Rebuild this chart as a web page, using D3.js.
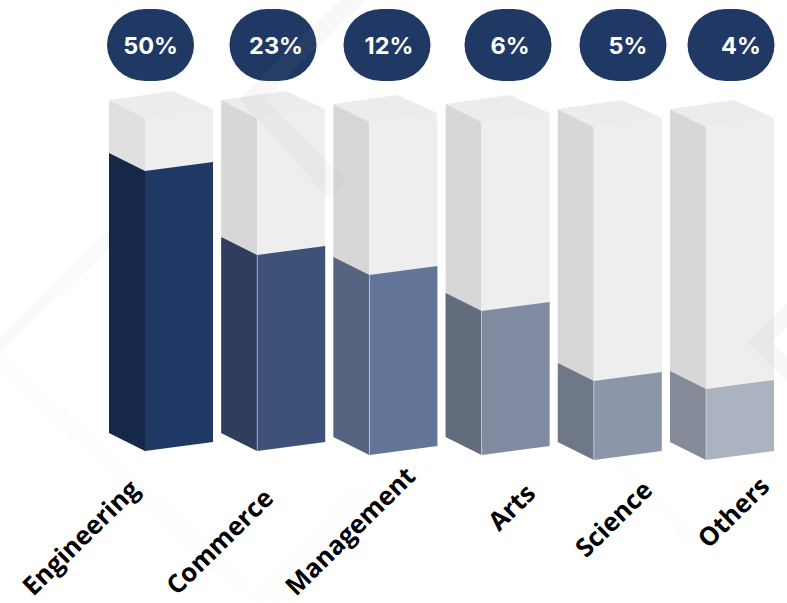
<!DOCTYPE html>
<html>
<head>
<meta charset="utf-8">
<script src="https://cdn.jsdelivr.net/npm/d3@7"></script>
<style>
  html, body { margin: 0; padding: 0; background: #fff; }
  svg { display: block; }
</style>
</head>
<body>
<svg id="chart" width="787" height="603"></svg>
<script>
// Share of students by field of study
const fields = ["Engineering", "Commerce", "Management", "Arts", "Science", "Others"];
const shares = [50, 23, 12, 6, 5, 4];
const frontColors = ["#1f3864", "#3e5179", "#64759a", "#808aa0", "#8b97a9", "#abb3c0"];
const sideColors = ["#16284a", "#2f3e5c", "#566480", "#636c7c", "#6e7886", "#858b98"];
const baseDrop = [0, 0, 4, 4, 9, 9];
const pillCenters = [150.5, 273, 387, 508, 623, 731];
const textCenters = [150.5, 276, 389, 510, 628, 741];
const labelEnds = [[141, 491], [275, 500], [417, 478], [537, 495], [654, 492], [771, 488]];

const svg = d3.select("#chart");

// Tower geometry: a side face, a front face and a cap in a shallow isometric view
const sideW = 36, frontW = 68, towerH = 333, sideRise = 18, frontRise = 9, capBack = 64;
const x = d3.scaleBand().domain(fields).range([109, 109 + 112.2 * 6]);
const baseY = 451;

// Fill height grows with share on a compressed, piecewise axis
const fillH = d3.scaleLinear().domain([0, 4, 5, 6, 12, 23, 50]).range([0, 71, 79, 144, 180, 196, 280]);

const poly = (pts, fill) => svg.append("polygon")
  .attr("points", pts.map(p => p.join(",")).join(" "))
  .attr("fill", fill);

fields.forEach((f, i) => {
  const left = x(f), mid = left + sideW, right = mid + frontW;
  const b = baseY + baseDrop[i];
  const top = b - towerH;
  const fy = b - fillH(shares[i]);

  // empty column
  poly([[left, top - sideRise], [mid, top], [mid, b], [left, b - sideRise]], i === 0 ? "#e0e0e0" : "#d7d7d7");
  poly([[mid, top], [right, top - frontRise], [right, b - frontRise], [mid, b]], "#eeeeee");
  poly([[left, top - sideRise], [left + capBack, top - sideRise - frontRise], [right, top - frontRise], [mid, top]], "#ececec");

  // filled portion
  poly([[left, fy - sideRise], [mid, fy], [mid, b], [left, b - sideRise]], sideColors[i]);
  poly([[mid, fy], [right, fy - frontRise], [right, b - frontRise], [mid, b]], frontColors[i]);
  svg.append("line").attr("x1", mid).attr("x2", mid).attr("y1", fy).attr("y2", b)
    .attr("stroke", "#ffffff").attr("stroke-opacity", i === 0 ? 0 : 0.45).attr("stroke-width", 1);
});

// Percentage pills above the towers
fields.forEach((f, i) => {
  svg.append("rect")
    .attr("x", pillCenters[i] - 43.5).attr("y", 9)
    .attr("width", 87).attr("height", 72)
    .attr("rx", 38).attr("ry", 36)
    .attr("fill", "#1f3864");
});

// Faint diagonal ribbons laid across the whole sheet
const ribbons = [
  { pts: [[240, 99], [340, 0], [365, 0], [264, 99], [345, 180], [330, 200]], o: 0.07 },
  { pts: [[0, 337], [108, 230], [108, 250], [0, 352]], o: 0.05 },
  { pts: [[0, 352], [0, 370], [238, 595], [250, 580]], o: 0.02 },
  { pts: [[250, 600], [350, 490], [370, 490], [280, 603]], o: 0.025 },
  { pts: [[748, 342], [787, 303], [787, 327], [772, 342], [787, 357], [787, 381]], o: 0.07 },
  { pts: [[612, 462], [625, 462], [702, 540], [690, 545]], o: 0.02 }
];
ribbons.forEach(r => poly(r.pts, "#999999").attr("fill-opacity", r.o));

// Percentage values
fields.forEach((f, i) => {
  svg.append("text")
    .attr("x", textCenters[i]).attr("y", 54)
    .attr("text-anchor", "middle")
    .attr("font-family", "Inter, sans-serif")
    .attr("font-weight", 700)
    .attr("font-size", 23.5)
    .attr("fill", "#ffffff")
    .text(shares[i] + "%");
});

// Slanted category labels
fields.forEach((f, i) => {
  const [lx, ly] = labelEnds[i];
  svg.append("text")
    .attr("transform", `translate(${lx},${ly}) rotate(-44.5)`)
    .attr("text-anchor", "end")
    .attr("font-family", "'Open Sans', sans-serif")
    .attr("font-weight", 700)
    .attr("font-size", 25.6)
    .attr("fill", "#000000")
    .text(f);
});
</script>
</body>
</html>
